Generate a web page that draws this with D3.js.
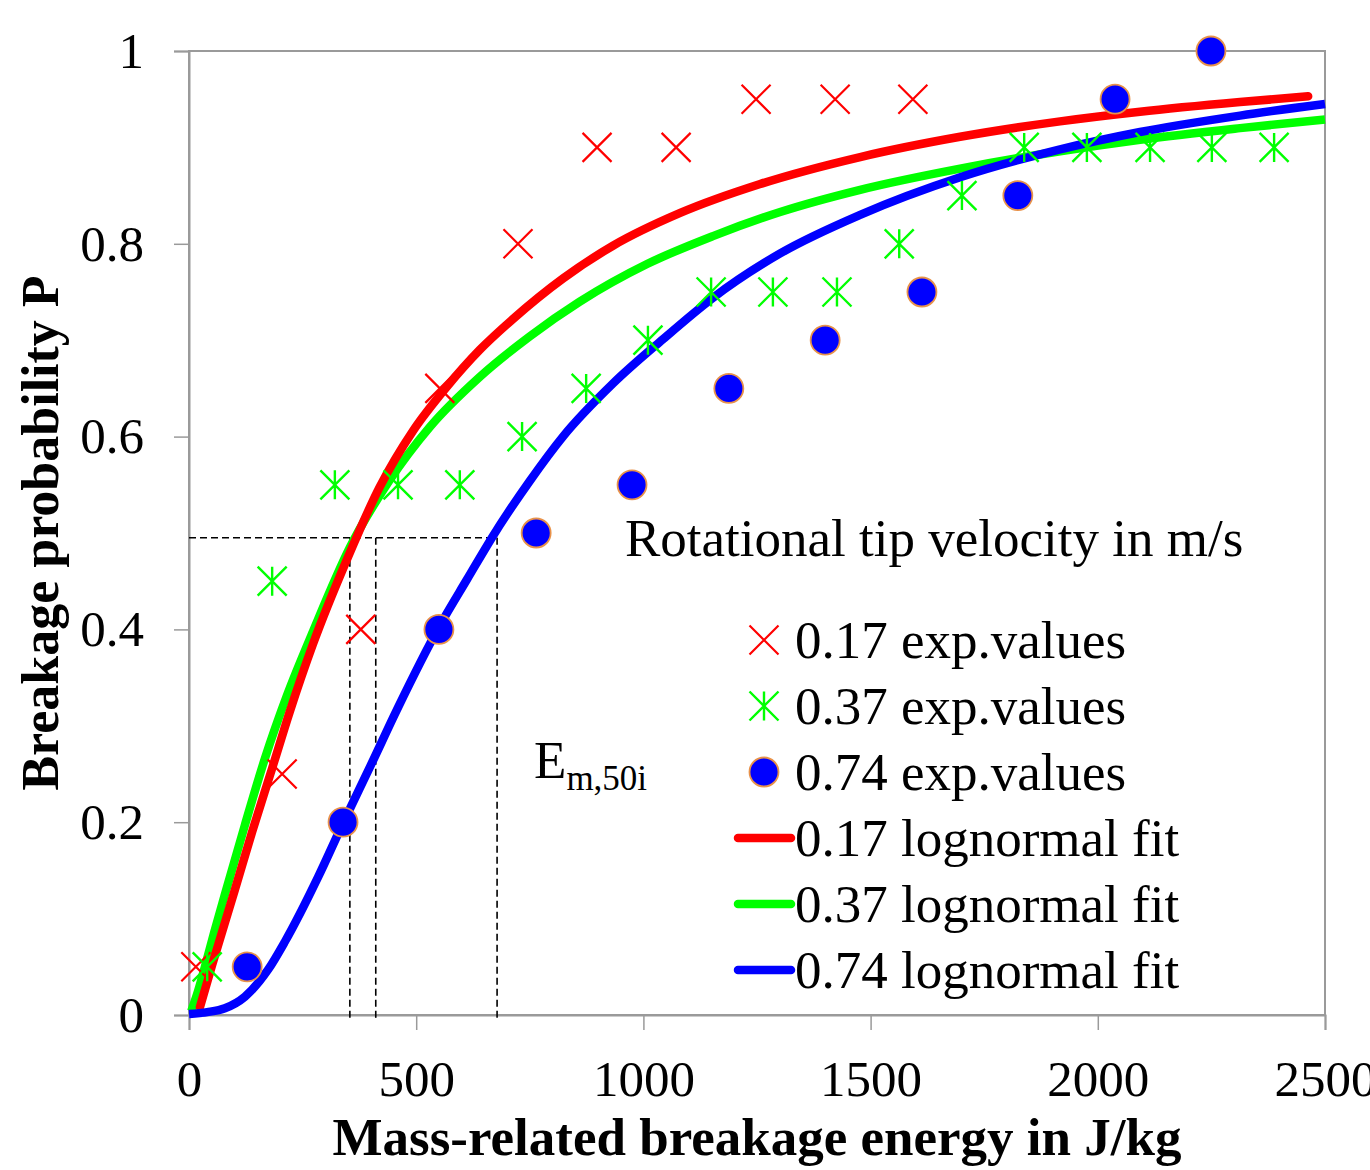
<!DOCTYPE html>
<html>
<head>
<meta charset="utf-8">
<script src="https://cdn.jsdelivr.net/npm/d3@7"></script>
<style>
  html, body { margin: 0; padding: 0; background: #fff; }
  svg { display: block; }
  text { font-family: "Liberation Serif", "Times New Roman", serif; fill: #000; }
</style>
</head>
<body>
<svg id="chart" width="1370" height="1170"></svg>
<script>
// ---------- data ----------
const xTicks = [0, 500, 1000, 1500, 2000, 2500];
const yTicks = [0, 0.2, 0.4, 0.6, 0.8, 1];

// experimental values [E in J/kg, P]
const exp017 = [[15,0.05],[205,0.25],[378,0.4],[552,0.65],[724,0.8],[898,0.9],[1072,0.9],[1248,0.95],[1422,0.95],[1593,0.95]];
const exp037 = [[40,0.05],[183,0.45],[321,0.55],[460,0.55],[596,0.55],[733,0.6],[874,0.65],[1010,0.7],[1149,0.75],[1285,0.75],[1426,0.75],[1563,0.8],[1701,0.85],[1838,0.9],[1976,0.9],[2115,0.9],[2251,0.9],[2388,0.9]];
const exp074 = [[128,0.05],[339,0.2],[550,0.4],[764,0.5],[975,0.55],[1188,0.65],[1400,0.7],[1613,0.75],[1824,0.85],[2038,0.95],[2249,1.0]];

// lognormal fit curves [E, P]
const fit017 = [[24,0.008],[51,0.052],[101,0.130],[139,0.190],[183,0.256],[222,0.315],[273,0.385],[348,0.473],[420,0.548],[493,0.606],[568,0.652],[640,0.690],[713,0.722],[823,0.764],[933,0.798],[1081,0.832],[1257,0.862],[1477,0.890],[1697,0.911],[1917,0.927],[2093,0.937],[2313,0.947],[2463,0.953]];
const fit037 = [[5,0.004],[20,0.025],[35,0.050],[55,0.085],[79,0.125],[123,0.197],[167,0.266],[216,0.332],[273,0.398],[354,0.485],[442,0.555],[530,0.610],[640,0.662],[750,0.704],[860,0.740],[1008,0.779],[1153,0.808],[1301,0.833],[1477,0.856],[1697,0.878],[1917,0.896],[2093,0.908],[2313,0.920],[2500,0.929]];
const fit074 = [[0,0.001],[40,0.003],[79,0.007],[123,0.019],[174,0.047],[211,0.076],[284,0.143],[337,0.197],[403,0.262],[458,0.317],[552,0.404],[612,0.452],[669,0.497],[750,0.554],[823,0.600],[933,0.655],[1043,0.701],[1153,0.744],[1301,0.790],[1477,0.830],[1697,0.869],[1917,0.898],[2093,0.916],[2313,0.933],[2500,0.945]];

// median energies E_m,50i and the 50% level
const em50 = [354, 411, 678];
const pHalf = 0.495;

const legendLabels = ["0.17 exp.values","0.37 exp.values","0.74 exp.values","0.17 lognormal fit","0.37 lognormal fit","0.74 lognormal fit"];

// ---------- layout ----------
const svg = d3.select("#chart");
const m = {left: 189, top: 51, right: 1325, bottom: 1015};
const x = d3.scaleLinear().domain([0, 2500]).range([m.left, m.right]);
const y = d3.scaleLinear().domain([0, 1]).range([m.bottom, m.top]);

const RED = "#ff0000", GREEN = "#00ff00", BLUE = "#0000ff", ORANGE = "#e8924a";

// frame
svg.append("rect")
  .attr("x", m.left).attr("y", m.top)
  .attr("width", m.right - m.left).attr("height", m.bottom - m.top)
  .attr("fill", "none").attr("stroke", "#9a9a9a").attr("stroke-width", 2);

// axes
const xAxis = svg.append("g").attr("transform", `translate(0,${m.bottom})`)
  .call(d3.axisBottom(x).tickValues(xTicks).tickSize(15).tickPadding(29).tickFormat(d3.format("d")));
const yAxis = svg.append("g").attr("transform", `translate(${m.left},0)`)
  .call(d3.axisLeft(y).tickValues(yTicks).tickSize(15).tickPadding(30).tickFormat(d => d === 0 || d === 1 ? String(d) : d3.format(".1f")(d)));
[xAxis, yAxis].forEach(g => {
  g.select(".domain").attr("stroke", "#9a9a9a").attr("stroke-width", 2);
  g.selectAll(".tick line").attr("stroke", "#9a9a9a").attr("stroke-width", 1.5);
  g.selectAll(".tick text").style("font-family", '"Liberation Serif", serif').style("font-size", "51px").attr("fill", "#000");
});
xAxis.selectAll(".tick text").attr("dy", "0.72em");

// axis titles
svg.append("text").attr("x", (m.left + m.right) / 2).attr("y", 1155)
  .attr("text-anchor", "middle").style("font-size", "53px").style("font-weight", "bold")
  .text("Mass-related breakage energy in J/kg");
svg.append("text").attr("transform", `translate(58,${(m.top + m.bottom) / 2}) rotate(-90)`)
  .attr("text-anchor", "middle").style("font-size", "52px").style("font-weight", "bold")
  .text("Breakage probability P");

// dashed guide lines
const guides = svg.append("g").attr("stroke", "#000").attr("stroke-width", 1.6).attr("stroke-dasharray", "7,4").attr("fill", "none");
guides.append("line").attr("x1", x(0)).attr("x2", x(d3.max(em50))).attr("y1", y(pHalf)).attr("y2", y(pHalf));
em50.forEach(e => {
  guides.append("line").attr("x1", x(e)).attr("x2", x(e)).attr("y1", y(pHalf)).attr("y2", m.bottom + 6);
});

// fit curves
const line = d3.line().x(d => x(d[0])).y(d => y(d[1])).curve(d3.curveMonotoneX);
[[fit037, GREEN, "butt"], [fit017, RED, "round"], [fit074, BLUE, "butt"]].forEach(([data, col, cap]) => {
  svg.append("path").datum(data).attr("d", line)
    .attr("fill", "none").attr("stroke", col).attr("stroke-width", 8.5).attr("stroke-linecap", cap);
});

// marker helpers
function drawX(g, cx, cy, s) {
  g.append("path").attr("d", `M${cx - s},${cy - s}L${cx + s},${cy + s}M${cx - s},${cy + s}L${cx + s},${cy - s}`)
    .attr("stroke", RED).attr("stroke-width", 2.2).attr("fill", "none");
}
function drawStar(g, cx, cy, s) {
  g.append("path").attr("d", `M${cx - s},${cy - s}L${cx + s},${cy + s}M${cx - s},${cy + s}L${cx + s},${cy - s}M${cx},${cy - s}L${cx},${cy + s}`)
    .attr("stroke", GREEN).attr("stroke-width", 2.4).attr("fill", "none");
}
function drawDot(g, cx, cy, r) {
  g.append("circle").attr("cx", cx).attr("cy", cy).attr("r", r)
    .attr("fill", BLUE).attr("stroke", ORANGE).attr("stroke-width", 1.8);
}

const mk = svg.append("g");
exp017.forEach(d => drawX(mk, x(d[0]), y(d[1]), 14.5));
exp037.forEach(d => drawStar(mk, x(d[0]), y(d[1]), 14.5));
exp074.forEach(d => drawDot(mk, x(d[0]), y(d[1]), 14.5));

// annotation text
svg.append("text").attr("x", 625).attr("y", 556).style("font-size", "53px").text("Rotational tip velocity in m/s");
const em = svg.append("text").attr("x", 534).attr("y", 778).style("font-size", "53px");
em.append("tspan").text("E");
em.append("tspan").attr("dy", 12).style("font-size", "35px").text("m,50i");

// legend
const legY = [640, 706, 772, 838, 904, 970];
const lg = svg.append("g");
drawX(lg, 764, legY[0], 14.5);
drawStar(lg, 764, legY[1], 14.5);
drawDot(lg, 764, legY[2], 14.5);
[RED, GREEN, BLUE].forEach((c, i) => {
  lg.append("line").attr("x1", 738).attr("x2", 791).attr("y1", legY[3 + i]).attr("y2", legY[3 + i])
    .attr("stroke", c).attr("stroke-width", 8.5).attr("stroke-linecap", "round");
});
legendLabels.forEach((t, i) => {
  lg.append("text").attr("x", 795).attr("y", legY[i]).attr("dy", "0.34em").style("font-size", "53px").text(t);
});
</script>
</body>
</html>
